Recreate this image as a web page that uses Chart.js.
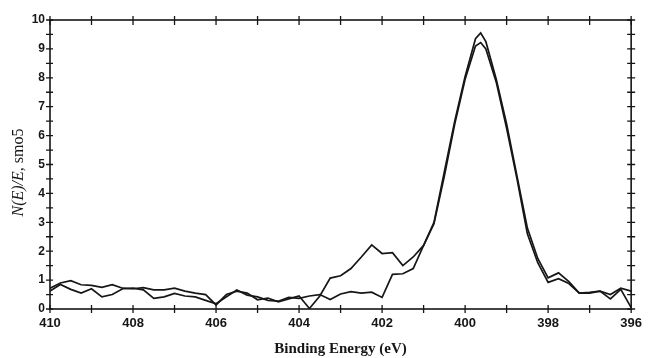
<!DOCTYPE html>
<html lang="en">
<head>
  <meta charset="UTF-8" />
  <title>N(E)/E spectrum</title>
  <script src="https://cdn.jsdelivr.net/npm/chart.js"></script>
  <style>
    body { margin: 0; background: #fff; }
    canvas { display: block; }
  </style>
</head>
<body>
  <canvas id="spectrum" width="649" height="358"></canvas>
  <script>
    // binding energy (eV), shared by both traces
    const energy = [410, 409.75, 409.5, 409.25, 409, 408.75, 408.5, 408.25, 408, 407.75,
      407.5, 407.25, 407, 406.75, 406.5, 406.25, 406, 405.75, 405.5, 405.25,
      405, 404.75, 404.5, 404.25, 404, 403.75, 403.5, 403.25, 403, 402.75,
      402.5, 402.25, 402, 401.75, 401.5, 401.25, 401, 400.75, 400.5, 400.25,
      400, 399.75, 399.625, 399.5, 399.25, 399, 398.75, 398.5, 398.25, 398,
      397.75, 397.5, 397.25, 397, 396.75, 396.5, 396.25, 396];
    // trace with the shoulder near 402 eV
    const countsA = [0.72, 0.9, 0.98, 0.84, 0.82, 0.75, 0.84, 0.72, 0.7, 0.74,
      0.66, 0.66, 0.72, 0.62, 0.55, 0.5, 0.14, 0.5, 0.62, 0.55,
      0.32, 0.38, 0.25, 0.35, 0.45, 0.02, 0.45, 1.07, 1.15, 1.4,
      1.8, 2.22, 1.92, 1.95, 1.5, 1.8, 2.2, 3.0, 4.75, 6.5,
      8.05, 9.35, 9.55, 9.25, 7.95, 6.4, 4.6, 2.8, 1.75, 1.08,
      1.25, 0.95, 0.55, 0.58, 0.62, 0.5, 0.72, 0.62];
    // second trace
    const countsB = [0.62, 0.85, 0.68, 0.55, 0.7, 0.42, 0.5, 0.7, 0.72, 0.66,
      0.37, 0.42, 0.54, 0.45, 0.42, 0.3, 0.18, 0.42, 0.66, 0.48,
      0.42, 0.3, 0.27, 0.4, 0.37, 0.45, 0.5, 0.33, 0.52, 0.6,
      0.55, 0.58, 0.4, 1.2, 1.22, 1.4, 2.2, 2.95, 4.6, 6.4,
      7.95, 9.1, 9.22, 9.0, 7.85, 6.25, 4.5, 2.6, 1.6, 0.92,
      1.05, 0.88, 0.55, 0.55, 0.62, 0.35, 0.68, 0.05];

    const xTickLabels = [410, 408, 406, 404, 402, 400, 398, 396];
    const yTickLabels = [0, 1, 2, 3, 4, 5, 6, 7, 8, 9, 10];
    const xTickMarks = [410, 409, 408, 407, 406, 405, 404, 403, 402, 401, 400, 399, 398, 397, 396];
    const yTickMarks = [0, 0.5, 1, 1.5, 2, 2.5, 3, 3.5, 4, 4.5, 5, 5.5, 6, 6.5, 7, 7.5, 8, 8.5, 9, 9.5, 10];

    const ink = '#161616';
    const tickFont = { family: "'Liberation Sans', Arial, sans-serif", size: 13, weight: 'bold' };

    // frame + ticks crossing each side, positioned by the scales
    const frameTicks = {
      id: 'frameTicks',
      afterDraw(chart) {
        const { ctx, chartArea: a, scales: { x, y } } = chart;
        ctx.save();
        ctx.strokeStyle = ink;
        ctx.lineWidth = 1.6;
        ctx.strokeRect(a.left, a.top, a.right - a.left, a.bottom - a.top);
        ctx.lineWidth = 1.3;
        ctx.beginPath();
        xTickMarks.forEach(v => {
          const px = x.getPixelForValue(v);
          ctx.moveTo(px, a.bottom - 4); ctx.lineTo(px, a.bottom + 4);
          ctx.moveTo(px, a.top - 4); ctx.lineTo(px, a.top + 5);
        });
        yTickMarks.forEach(v => {
          const py = y.getPixelForValue(v);
          ctx.moveTo(a.left - 4, py); ctx.lineTo(a.left + 3, py);
          ctx.moveTo(a.right - 4, py); ctx.lineTo(a.right + 4, py);
        });
        ctx.stroke();

        // y title: "N(E)/E" italic, ", smo5" upright
        const italic = "italic 16px 'Liberation Serif', 'Times New Roman', serif";
        const upright = "16px 'Liberation Serif', 'Times New Roman', serif";
        const p1 = 'N(E)/E', p2 = ', smo5';
        ctx.font = italic; const w1 = ctx.measureText(p1).width;
        ctx.font = upright; const w2 = ctx.measureText(p2).width;
        ctx.translate(19, (a.top + a.bottom) / 2 + 8);
        ctx.rotate(-Math.PI / 2);
        ctx.fillStyle = ink;
        ctx.textBaseline = 'middle';
        ctx.textAlign = 'left';
        const start = -(w1 + w2) / 2;
        ctx.font = italic; ctx.fillText(p1, start, 0);
        ctx.font = upright; ctx.fillText(p2, start + w1, 0);
        ctx.restore();
      }
    };

    const toPoints = vals => energy.map((e, i) => ({ x: e, y: vals[i] }));

    new Chart(document.getElementById('spectrum'), {
      type: 'line',
      data: {
        datasets: [
          { data: toPoints(countsA), borderColor: ink, borderWidth: 1.7, pointRadius: 0, tension: 0 },
          { data: toPoints(countsB), borderColor: ink, borderWidth: 1.7, pointRadius: 0, tension: 0 }
        ]
      },
      options: {
        responsive: false,
        devicePixelRatio: 1,
        animation: false,
        layout: { padding: { top: 20, right: 11, left: 0, bottom: 0 } },
        plugins: { legend: { display: false }, tooltip: { enabled: false } },
        scales: {
          x: {
            type: 'linear',
            min: 396, max: 410,
            reverse: true,
            grid: { display: false, drawTicks: false },
            border: { display: false },
            afterBuildTicks: s => { s.ticks = xTickLabels.map(v => ({ value: v })); },
            afterFit: s => { s.height = 49; },
            ticks: { color: ink, font: tickFont, padding: 7, maxRotation: 0 },
            title: {
              display: true,
              text: 'Binding Energy (eV)',
              color: ink,
              font: { family: "'Liberation Serif', 'Times New Roman', serif", size: 15, weight: 'bold' },
              padding: { top: 0, bottom: 0 }
            }
          },
          y: {
            min: 0, max: 10,
            grid: { display: false, drawTicks: false },
            border: { display: false },
            afterBuildTicks: s => { s.ticks = yTickLabels.map(v => ({ value: v })); },
            afterFit: s => { s.width = 50; },
            ticks: { color: ink, font: { ...tickFont, size: 12 }, padding: 5 }
          }
        }
      },
      plugins: [frameTicks]
    });
  </script>
</body>
</html>
